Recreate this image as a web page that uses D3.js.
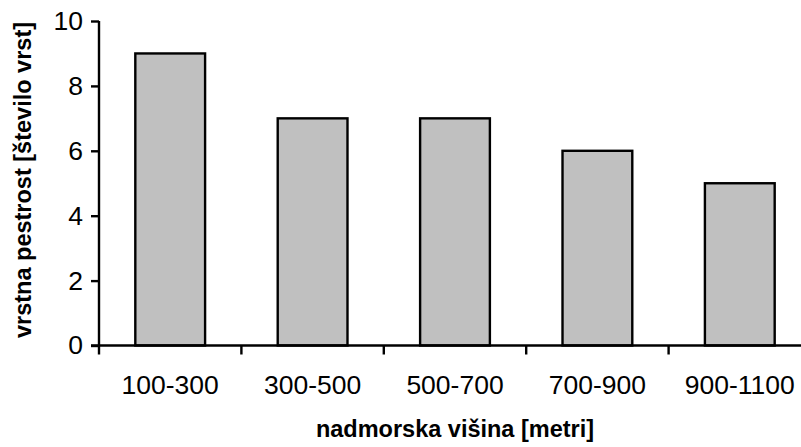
<!DOCTYPE html>
<html>
<head>
<meta charset="utf-8">
<script src="https://cdn.jsdelivr.net/npm/d3@7"></script>
<style>
  html, body { margin: 0; padding: 0; background: #fff; }
  svg { display: block; }
  text { font-family: "Liberation Sans", Arial, sans-serif; fill: #000; }
</style>
</head>
<body>
<svg id="chart" width="801" height="447"></svg>
<script>
const categories = ["100-300", "300-500", "500-700", "700-900", "900-1100"];
const values = [9, 7, 7, 6, 5];
const yTicks = [0, 2, 4, 6, 8, 10];
const xTitle = "nadmorska višina [metri]";
const yTitle = "vrstna pestrost [število vrst]";

const svg = d3.select("#chart");
const mLeft = 99, mRight = 811, mTop = 21, mBottom = 345.5;

const x = d3.scaleBand().domain(categories).range([mLeft, mRight]).padding(0);
const y = d3.scaleLinear().domain([0, 10]).range([mBottom, mTop]);
const barW = x.bandwidth() * 0.49;

// bars
svg.append("g").selectAll("rect")
  .data(values)
  .join("rect")
  .attr("x", (d, i) => x(categories[i]) + (x.bandwidth() - barW) / 2)
  .attr("y", d => y(d))
  .attr("width", barW)
  .attr("height", d => y(0) - y(d))
  .attr("fill", "#c0c0c0")
  .attr("stroke", "#000")
  .attr("stroke-width", 2.4);

// y axis
const yAxis = d3.axisLeft(y).tickValues(yTicks).tickSize(8).tickPadding(8).tickFormat(d3.format("d"));
const gy = svg.append("g").attr("transform", `translate(${mLeft},0)`).call(yAxis);
gy.select(".domain").attr("stroke", "#000").attr("stroke-width", 2.4).attr("d", `M0,${mTop}V${mBottom}`);
gy.selectAll(".tick line").attr("stroke", "#000").attr("stroke-width", 2.4);
gy.selectAll(".tick text").style("font-family", "Liberation Sans, Arial, sans-serif").style("font-size", "26.5px").attr("fill", "#000");

// x axis with ticks at category boundaries
const xAxis = d3.axisBottom(x).tickSize(0).tickPadding(30);
const gx = svg.append("g").attr("transform", `translate(0,${mBottom})`).call(xAxis);
gx.select(".domain").attr("stroke", "#000").attr("stroke-width", 2.4).attr("d", `M${mLeft - 8},0H${mRight}`);
gx.selectAll(".tick text").style("font-family", "Liberation Sans, Arial, sans-serif").style("font-size", "26.5px").attr("fill", "#000").attr("dy", "0.71em");
const bounds = categories.map(c => x(c)).concat([x(categories[categories.length - 1]) + x.step()]);
gx.append("g").selectAll("line")
  .data(bounds)
  .join("line")
  .attr("x1", d => d).attr("x2", d => d)
  .attr("y1", 0).attr("y2", 9)
  .attr("stroke", "#000").attr("stroke-width", 2.4);

// titles
svg.append("text")
  .attr("x", 455)
  .attr("y", 437)
  .attr("text-anchor", "middle")
  .style("font-size", "23.5px")
  .style("font-weight", "bold")
  .text(xTitle);

svg.append("text")
  .attr("transform", `translate(31,180) rotate(-90)`)
  .attr("text-anchor", "middle")
  .style("font-size", "23.5px")
  .style("font-weight", "bold")
  .text(yTitle);
</script>
</body>
</html>
